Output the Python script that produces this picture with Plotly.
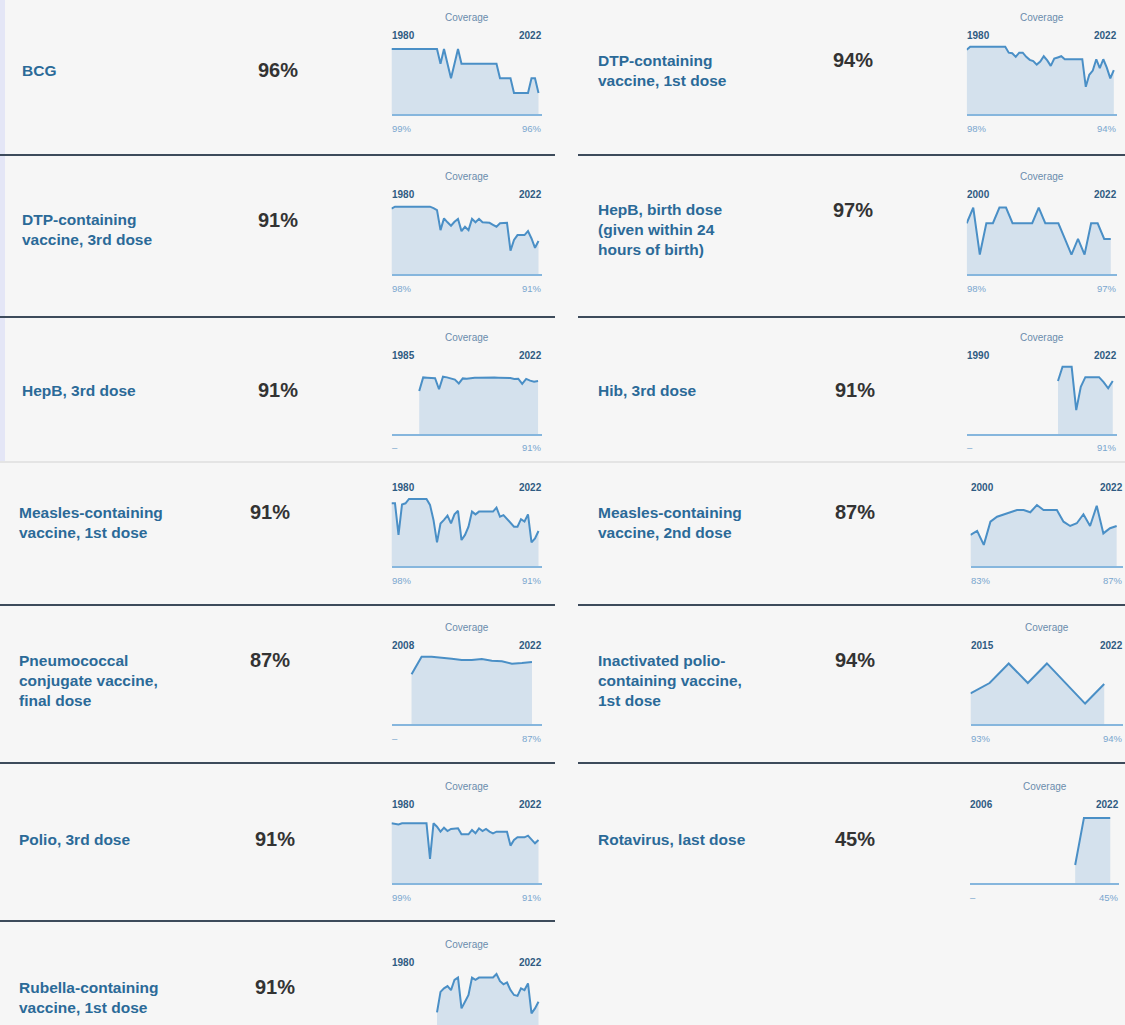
import plotly.graph_objects as go

# ---------------- data ----------------
labels = [
    "BCG",
    "DTP-containing<br>vaccine, 1st dose",
    "DTP-containing<br>vaccine, 3rd dose",
    "HepB, birth dose<br>(given within 24<br>hours of birth)",
    "HepB, 3rd dose",
    "Hib, 3rd dose",
    "Measles-containing<br>vaccine, 1st dose",
    "Measles-containing<br>vaccine, 2nd dose",
    "Pneumococcal<br>conjugate vaccine,<br>final dose",
    "Inactivated polio-<br>containing vaccine,<br>1st dose",
    "Polio, 3rd dose",
    "Rotavirus, last dose",
    "Rubella-containing<br>vaccine, 1st dose",
]
latest = ["96%", "94%", "91%", "97%", "91%", "91%", "91%", "87%", "87%", "94%", "91%", "45%", "91%"]
axis_start = [1980, 1980, 1980, 2000, 1985, 1990, 1980, 2000, 2008, 2015, 1980, 2006, 1980]
axis_end_label = "2022"
first_label = ["99%", "98%", "98%", "98%", "–", "–", "98%", "83%", "–", "93%", "99%", "–", ""]
last_label = ["96%", "94%", "91%", "97%", "91%", "91%", "91%", "87%", "87%", "94%", "91%", "45%", ""]
data_start = [1980, 1980, 1980, 2000, 1992, 2010, 1980, 2000, 2010, 2015, 1980, 2018, 1993]

bcg = [99, 99, 99, 99, 99, 99, 99, 99, 99, 99, 99, 99, 99, 99, 98, 99, 98, 97, 98, 99,
       98, 98, 98, 98, 98, 98, 98, 98, 98, 98, 98, 97, 97, 97, 97, 96, 96, 96, 96, 96,
       97, 97, 96]
dtp1 = [97.5, 98, 98, 98, 98, 98, 98, 98, 98, 98, 98, 98, 97, 96.9, 96.3, 97, 97, 96.3,
        95.8, 95.6, 95, 95.5, 96.4, 95.7, 94.8, 96, 96.2, 96.4, 95.9, 95.9, 95.9, 95.9,
        95.9, 95.9, 91.3, 93.3, 94, 95.9, 94.4, 95.9, 94.5, 92.7, 94.1]
dtp3 = [97.6, 98, 98, 98, 98, 98, 98, 98, 98, 98, 98, 98, 97.7, 97.3, 93.2, 95.6, 94.8,
        94.1, 94.9, 95.5, 93.0, 93.9, 93.2, 95.5, 94.8, 95.5, 94.8, 94.8, 94.7, 94.3, 93.9,
        94.6, 94.6, 94.7, 89.0, 91.2, 92.2, 92.2, 92.2, 93.0, 91.5, 89.6, 91.0]
hepb_bd = [98, 99, 96, 98, 98, 99, 99, 98, 98, 98, 98, 99, 98, 98, 98, 97, 96, 97, 96,
           98, 98, 97, 97]
hepb3 = [85.2, 93.1, 92.9, 92.6, 92.6, 86.2, 93.5, 93.1, 92.5, 91.8, 89.6, 92.5, 92.3,
         92.8, 92.9, 92.9, 93, 92.9, 93, 93, 92.9, 92.9, 93, 92.7, 92.2, 92.3, 89.3, 92.2,
         91.2, 90.6, 91]
hib3 = [91, 94.7, 94.7, 94.7, 83.4, 89.5, 92, 92, 92, 92, 90.7, 89.1, 91]
mcv1 = [98, 98, 90, 97.7, 98, 99.1, 99.1, 99.1, 99.1, 99.1, 99.1, 97.6, 93.8, 88.1, 92.9,
        93.8, 94.9, 92.9, 95.2, 96.1, 88.7, 90, 92.1, 95.9, 95.2, 95.9, 95.9, 95.9, 95.9,
        95.9, 96.9, 94.6, 95, 94, 92.9, 92.1, 92.1, 94, 93.4, 95.2, 88.1, 89.1, 91]
mcv2 = [83, 84.8, 78.6, 88.9, 91.1, 92.2, 93.1, 94.1, 94.1, 93.1, 96.3, 94.1, 94.1, 94.1,
        88.9, 87, 88.2, 92.2, 87, 96, 83.7, 86, 87]
pcv = [79.6, 90.2, 90.2, 89.8, 89, 88.2, 88.2, 88.8, 87.8, 87.4, 86, 86.4, 87]
ipv1 = [93, 94.1, 96.2, 94.1, 96.2, 94.1, 91.9, 94]
polio3 = [99, 98.7, 98.5, 99, 99, 99, 99, 99, 99, 99, 99, 81.9, 99, 97.4, 95, 96.9, 95.3,
          96.3, 96.4, 96.6, 93.7, 93.7, 93.7, 95.8, 94.2, 96.6, 95.3, 96.3, 95, 94.2, 95,
          95, 95, 95, 88.3, 91, 92.3, 92.3, 92.3, 93.1, 91.5, 89.4, 91]
rota = [12.6, 45, 45, 45, 45]
rubella = [88.6, 93.2, 94, 94.5, 93.6, 95.9, 96.4, 89.5, 91, 92.5, 96.4, 95.9, 96.4, 96.4,
           96.4, 96.4, 96.4, 97.2, 95.6, 94.9, 95.3, 93.6, 92.5, 92.3, 94, 93.6, 95.1, 88.4,
           89.5, 91]

series = [bcg, dtp1, dtp3, hepb_bd, hepb3, hib3, mcv1, mcv2, pcv, ipv1, polio3, rota, rubella]

# ---------------- layout / styling ----------------
W, H = 1125, 1025
BG = "#f6f6f6"
FONT = "Liberation Sans, Arial, Helvetica, sans-serif"
LABEL_C = "#2b6a98"
PCT_C = "#333333"
YEAR_C = "#2f5b82"
COV_C = "#6b8cad"
BOT_C = "#7aa6cf"
LINE_C = "#4a8fc6"
FILL_C = "rgba(90,150,205,0.22)"
BASE_C = "#86b6dd"
SEP_C = "#3d4b5b"


def fx(x):
    return x / W


def fy(y):
    return 1 - y / H


row_off = [0, 160, 320, 452, 610, 769, 927]
grid = [(0, 0), (0, 1), (1, 0), (1, 1), (2, 0), (2, 1), (3, 0), (3, 1), (4, 0), (4, 1),
        (5, 0), (5, 1), (6, 0)]
# y ranges of each sparkline (axis scale)
y_ranges = [[94.55, 99.34], [86.72, 98.44], [84.19, 98.54], [94.74, 99.23], [60.0, 100.88],
            [77.09, 95.43], [82.06, 99.85], [69.07, 100.33], [49.6, 91.8], [89.68, 97.21],
            [70.2, 103.96], [0, 48.4], [85.78, 97.87]]


def chart_x(row, col):
    if col == 0:
        return 391.5, 542.0
    if row <= 2:
        return 966.7, 1117.3
    if row <= 4:
        return 970.5, 1123.3
    return 970.0, 1119.0


def note(x, y, text, size, color, xanchor="left", align="left"):
    shift = {"left": -2, "right": 2, "center": 0}[xanchor]
    return dict(x=fx(x + shift), y=fy(y), xref="paper", yref="paper", text=text,
                showarrow=False, xanchor=xanchor, yanchor="middle", align=align,
                font=dict(family=FONT, size=size, color=color))


fig = go.Figure()
annotations = []
shapes = []
layout_axes = {}

for i, (vals, (row, col)) in enumerate(zip(series, grid)):
    k = i + 1
    off = row_off[row]
    x0, x1 = chart_x(row, col)
    top = off + 44
    bot = min(off + 114.3, H)
    years = list(range(data_start[i], data_start[i] + len(vals)))
    fig.add_trace(go.Scatter(
        x=years, y=vals, mode="lines",
        line=dict(color=LINE_C, width=2),
        fill="tozeroy", fillcolor=FILL_C,
        hoverinfo="skip", showlegend=False,
        xaxis=f"x{k}", yaxis=f"y{k}",
    ))
    layout_axes[f"xaxis{k}"] = dict(
        domain=[fx(x0), fx(x1)], range=[axis_start[i], 2023], anchor=f"y{k}",
        showgrid=False, zeroline=False, showticklabels=False, ticks="",
        showline=(bot < H), linecolor=BASE_C, linewidth=2, fixedrange=True,
    )
    layout_axes[f"yaxis{k}"] = dict(
        domain=[fy(bot), fy(top)], range=y_ranges[i], anchor=f"x{k}",
        showgrid=False, zeroline=False, showticklabels=False, ticks="",
        showline=False, fixedrange=True,
    )

    # sparkline texts
    if row != 3:
        annotations.append(note((x0 + x1) / 2, off + 17, "Coverage", 10, COV_C, "center"))
    annotations.append(note(x0, off + 35, f"<b>{axis_start[i]}</b>", 10, YEAR_C, "left"))
    annotations.append(note(x1, off + 35, f"<b>{axis_end_label}</b>", 10, YEAR_C, "right"))
    if first_label[i]:
        annotations.append(note(x0, off + 128, first_label[i], 9.5, BOT_C, "left"))
    if last_label[i]:
        annotations.append(note(x1, off + 128, last_label[i], 9.5, BOT_C, "right"))

    # label + headline value
    nlines = labels[i].count("<br>") + 1
    if col == 0:
        lx = 22 if row <= 2 else 19
        px_c = 278 if row <= 2 else (270 if row <= 4 else 275)
    else:
        lx = 598
        px_c = 853 if row <= 1 else 855
    annotations.append(note(lx, off + 70, f"<b>{labels[i]}</b>", 15.5, LABEL_C, "left"))
    annotations.append(note(px_c, off + 70 - (nlines - 1) * 9.8, f"<b>{latest[i]}</b>",
                            20, PCT_C, "center", "center"))

# separators
for yy, sides in [(155, (0, 1)), (317, (0, 1)), (605, (0, 1)), (763, (0, 1)), (921, (0,))]:
    for s in sides:
        xa, xb = (0, 555) if s == 0 else (578, 1125)
        shapes.append(dict(type="line", xref="paper", yref="paper",
                           x0=fx(xa), x1=fx(xb), y0=fy(yy), y1=fy(yy),
                           line=dict(color=SEP_C, width=2)))
# stitch line
shapes.append(dict(type="line", xref="paper", yref="paper", x0=0, x1=1,
                   y0=fy(462), y1=fy(462), line=dict(color="#dedede", width=1.5)))
# faint left edge tint
shapes.append(dict(type="rect", xref="paper", yref="paper", x0=0, x1=fx(5),
                   y0=fy(461), y1=1, line=dict(width=0), fillcolor="#e4e6f6", layer="below"))

fig.update_layout(
    width=W, height=H, margin=dict(l=0, r=0, t=0, b=0),
    paper_bgcolor=BG, plot_bgcolor="rgba(0,0,0,0)",
    showlegend=False, annotations=annotations, shapes=shapes,
    **layout_axes,
)

fig.write_html("out.html", config={"displayModeBar": False, "staticPlot": True})

# remove the default page margin so the figure sits at the window origin
with open("out.html", encoding="utf-8") as f:
    html = f.read()
html = html.replace("<body>", '<body style="margin:0;padding:0;overflow:hidden;">', 1)
with open("out.html", "w", encoding="utf-8") as f:
    f.write(html)
